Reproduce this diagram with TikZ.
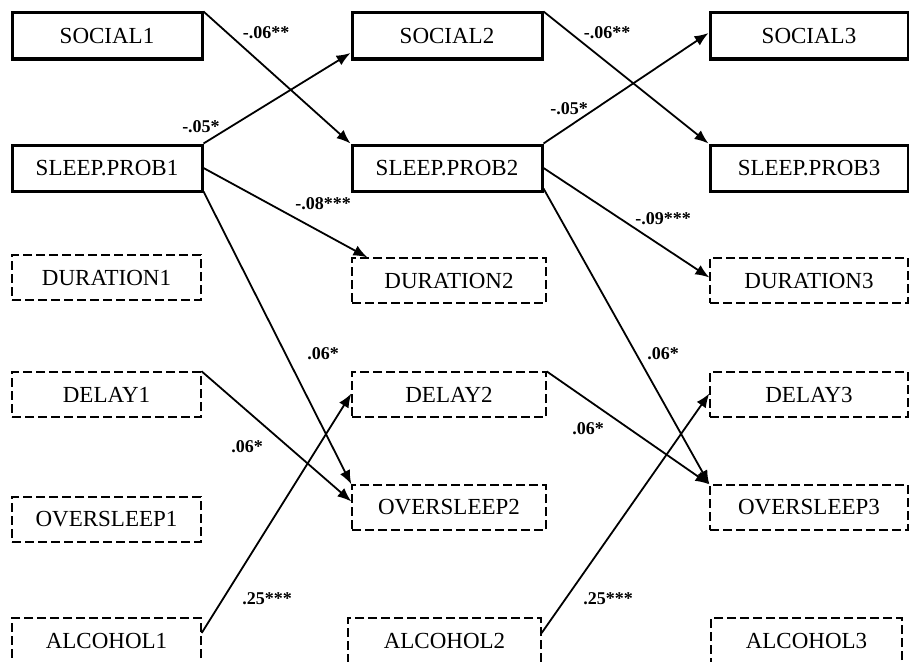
\documentclass[tikz,border=0pt]{standalone}
\usepackage{fontspec}
\setmainfont{Liberation Serif}
\usetikzlibrary{arrows.meta}
\begin{document}
\begin{tikzpicture}[x=1pt,y=-1pt,
  solidbox/.style={draw, line width=3pt, inner sep=0pt, minimum height=46pt, font=\fontsize{23}{26}\selectfont},
  dashbox/.style={draw, line width=1.3pt, dash pattern=on 9pt off 4pt, inner sep=0pt, minimum height=45pt, font=\fontsize{23}{26}\selectfont},
  conn/.style={line width=1.8pt, -{Latex[length=14pt,width=11pt]}},
  coef/.style={font=\fontsize{18}{20}\selectfont\bfseries, inner sep=0pt}]
\useasboundingbox (0,0) rectangle (909,661);
\clip (0,0) rectangle (909,661);
% column 1
\node[solidbox, minimum width=190pt] (s1) at (107,36) {SOCIAL1};
\node[solidbox, minimum width=190pt] (p1) at (107,168) {SLEEP.PROB1};
\node[dashbox, minimum width=189pt] (du1) at (106.5,277.5) {DURATION1};
\node[dashbox, minimum width=189pt] (de1) at (106.5,394.5) {DELAY1};
\node[dashbox, minimum width=189pt] (o1) at (106.5,519.5) {OVERSLEEP1};
\node[dashbox, minimum width=189pt, minimum height=46pt] (a1) at (106.5,641) {ALCOHOL1};
% column 2
\node[solidbox, minimum width=190pt] (s2) at (447,36) {SOCIAL2};
\node[solidbox, minimum width=190pt] (p2) at (447,168) {SLEEP.PROB2};
\node[dashbox, minimum width=194pt] (du2) at (449,280.5) {DURATION2};
\node[dashbox, minimum width=194pt] (de2) at (449,394.5) {DELAY2};
\node[dashbox, minimum width=194pt] (o2) at (449,507.5) {OVERSLEEP2};
\node[dashbox, minimum width=193pt, minimum height=46pt] (a2) at (444.5,641) {ALCOHOL2};
% column 3
\node[solidbox, minimum width=198pt] (s3) at (809,36) {SOCIAL3};
\node[solidbox, minimum width=198pt] (p3) at (809,168) {SLEEP.PROB3};
\node[dashbox, minimum width=198pt] (du3) at (809,280.5) {DURATION3};
\node[dashbox, minimum width=198pt] (de3) at (809,394.5) {DELAY3};
\node[dashbox, minimum width=198pt] (o3) at (809,507.5) {OVERSLEEP3};
\node[dashbox, minimum width=191pt, minimum height=46pt] (a3) at (806.5,641) {ALCOHOL3};
% connectors
\draw[conn] (s1.north east) -- (p2.north west);
\draw[conn] (p1.north east) -- ([yshift=-17pt]s2.west);
\draw[conn] (s2.north east) -- (p3.north west);
\draw[conn] (p2.north east) -- ([yshift=3pt]s3.west);
\draw[conn] (p1.east) -- ([xshift=16pt]du2.north west);
\draw[conn] ([yshift=1pt]p1.south east) -- (o2.north west);
\draw[conn] (de1.north east) -- ([yshift=6pt]o2.west);
\draw[conn] ([yshift=8pt]a1.east) -- ([yshift=1pt]de2.west);
\draw[conn] (p2.east) -- ([yshift=3pt]du3.west);
\draw[conn] ([yshift=4pt]p2.south east) -- (o3.north west);
\draw[conn] (de2.north east) -- (o3.north west);
\draw[conn] ([yshift=8pt]a2.east) -- ([yshift=1pt]de3.west);
% coefficients
\node[coef] (c1) at (266,33) {-.06**};
\node[coef] (c2) at (201,127) {-.05*};
\node[coef] (c3) at (323,204) {-.08***};
\node[coef] (c4) at (607,33) {-.06**};
\node[coef] (c5) at (569,109) {-.05*};
\node[coef] (c6) at (663,219) {-.09***};
\node[coef] (c7) at (323,354) {.06*};
\node[coef] (c8) at (663,354) {.06*};
\node[coef] (c9) at (247,447) {.06*};
\node[coef] (c10) at (588,429) {.06*};
\node[coef] (c11) at (267,599) {.25***};
\node[coef] (c12) at (608,599) {.25***};
\end{tikzpicture}
\end{document}
